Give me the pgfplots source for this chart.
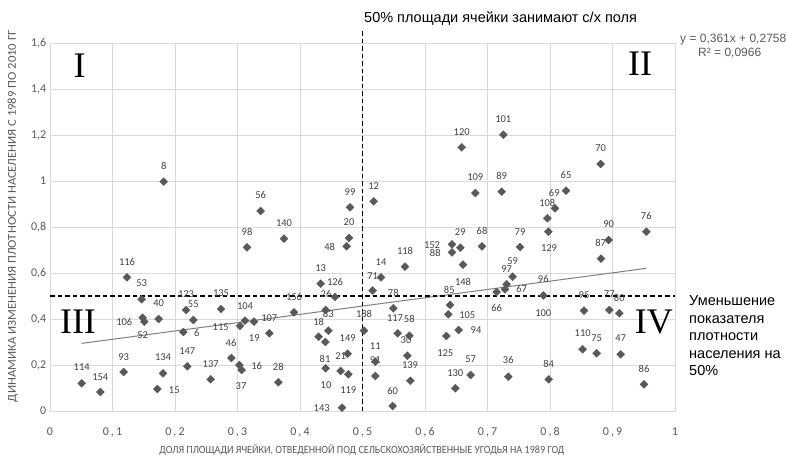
\documentclass[border=0pt]{standalone}
\usepackage{pgfplots}
\pgfplotsset{compat=1.18}
\usepackage{fontspec}
\usepackage{graphicx}
\setmainfont{Liberation Sans}
\newfontfamily\calibri{Carlito}
\newfontfamily\tnr{Liberation Serif}
\definecolor{gridgray}{HTML}{D9D9D9}
\definecolor{txtgray}{HTML}{595959}
\definecolor{ptgray}{HTML}{595959}
\definecolor{lblgray}{HTML}{404040}
\definecolor{trendgray}{HTML}{7F7F7F}
\newcommand\tc[1]{0\hspace{2pt},\hspace{2pt}#1}
\newcommand\lbl[3]{\node[anchor=center,inner sep=0pt,font=\calibri\fontsize{10.5}{12}\selectfont,text=lblgray] at (axis cs:#1,#2) {#3};}
\begin{document}
\begin{tikzpicture}
\path[use as bounding box] (0,0) rectangle (788pt,456pt);
\begin{axis}[
  at={(50pt,45pt)}, anchor=south west,
  width=625pt, height=368pt, scale only axis,
  xmin=0, xmax=1, ymin=0, ymax=1.6,
  xtick={0,0.1,0.2,0.3,0.4,0.5,0.6,0.7,0.8,0.9,1},
  ytick={0,0.2,0.4,0.6,0.8,1,1.2,1.4,1.6},
  xticklabels={0,{\tc1},{\tc2},{\tc3},{\tc4},{\tc5},{\tc6},{\tc7},{\tc8},{\tc9},1},
  yticklabels={0,{0,2},{0,4},{0,6},{0,8},1,{1,2},{1,4},{1,6}},
  grid=major, major grid style={draw=gridgray, line width=0.8pt},
  axis line style={draw=gridgray, line width=0.8pt},
  major tick length=0pt,
  tick label style={font=\calibri\fontsize{12}{14}\selectfont, text=txtgray},
  xticklabel style={anchor=center, yshift=-21pt},
  yticklabel style={anchor=east, inner sep=0pt, xshift=-3.5pt},
  clip=false,
]
\addplot[draw=trendgray, line width=1pt] coordinates {(0.0507,0.2941) (0.9541,0.6202)};
\addplot[only marks, mark=square*, mark size=2.8pt, mark options={rotate=45, fill=ptgray, draw=ptgray}] table {
x y
0.1819 0.997
0.3371 0.8696
0.3152 0.7117
0.3744 0.7491
0.48 0.8857
0.4784 0.7522
0.4747 0.7161
0.5179 0.9117
0.4331 0.5535
0.5296 0.5813
0.5163 0.5239
0.456 0.4957
0.1232 0.5813
0.1467 0.4857
0.1483 0.4057
0.1509 0.3883
0.1739 0.4
0.2176 0.4391
0.2293 0.3957
0.2133 0.3435
0.2736 0.4435
0.304 0.3696
0.2901 0.2304
0.3029 0.2
0.0507 0.1204
0.0805 0.0826
0.1179 0.1696
0.1808 0.1639
0.1717 0.0957
0.2197 0.1943
0.2571 0.1378
0.312 0.3926
0.3264 0.3883
0.3509 0.3378
0.3904 0.4291
0.4411 0.4391
0.4453 0.3491
0.4299 0.3230
0.4405 0.3
0.3067 0.1783
0.3653 0.1248
0.4411 0.1857
0.4651 0.1739
0.4773 0.1596
0.4763 0.2491
0.4672 0.0143
0.5024 0.3491
0.5493 0.4465
0.5563 0.3378
0.5205 0.2143
0.5205 0.1522
0.5483 0.0217
0.6587 1.1465
0.7253 1.2013
0.6805 0.9478
0.7227 0.9535
0.7957 0.8378
0.7973 0.7796
0.6432 0.7248
0.6565 0.71
0.6432 0.69
0.6608 0.6361
0.6912 0.7161
0.752 0.713
0.568 0.6274
0.7403 0.5839
0.7307 0.5509
0.728 0.5291
0.7147 0.5174
0.7893 0.5022
0.64 0.4609
0.6373 0.4204
0.5749 0.3274
0.5717 0.2404
0.5765 0.1317
0.6341 0.3261
0.6539 0.3522
0.6731 0.1565
0.6485 0.0987
0.7333 0.1491
0.8811 1.0739
0.8256 0.9578
0.808 0.8813
0.8939 0.7435
0.8816 0.6622
0.9541 0.7796
0.8544 0.4361
0.8949 0.4391
0.9109 0.4248
0.8523 0.2683
0.8747 0.2509
0.9131 0.2465
0.7979 0.1378
0.9504 0.1161
};
\draw[black, line width=1.5pt, dash pattern=on 4.5pt off 3pt] (axis cs:0,0.5) -- (axis cs:1,0.5);
\draw[black, line width=1.5pt, dash pattern=on 4.5pt off 3pt] (axis cs:0.5,0) -- (axis cs:0.5,1.657);
\lbl{0.1819}{1.0665}{8}
\lbl{0.3371}{0.9391}{56}
\lbl{0.3152}{0.7796}{98}
\lbl{0.3744}{0.8187}{140}
\lbl{0.48}{0.9535}{99}
\lbl{0.4784}{0.8204}{20}
\lbl{0.4475}{0.7143}{48}
\lbl{0.5179}{0.9783}{12}
\lbl{0.4331}{0.6230}{13}
\lbl{0.456}{0.5622}{126}
\lbl{0.5296}{0.6491}{14}
\lbl{0.5163}{0.5883}{71}
\lbl{0.1232}{0.6491}{116}
\lbl{0.1467}{0.5552}{53}
\lbl{0.1739}{0.4683}{40}
\lbl{0.1189}{0.3883}{106}
\lbl{0.1483}{0.3304}{52}
\lbl{0.2176}{0.5087}{123}
\lbl{0.2293}{0.4639}{55}
\lbl{0.2347}{0.3378}{6}
\lbl{0.2736}{0.5117}{135}
\lbl{0.2731}{0.3665}{115}
\lbl{0.2896}{0.297}{46}
\lbl{0.1179}{0.2361}{93}
\lbl{0.0507}{0.19}{114}
\lbl{0.0805}{0.1491}{154}
\lbl{0.1808}{0.2335}{134}
\lbl{0.1989}{0.0913}{15}
\lbl{0.2197}{0.2622}{147}
\lbl{0.2571}{0.2043}{137}
\lbl{0.312}{0.4578}{104}
\lbl{0.3509}{0.403}{107}
\lbl{0.3269}{0.3161}{19}
\lbl{0.3307}{0.197}{16}
\lbl{0.3056}{0.1087}{37}
\lbl{0.3653}{0.1926}{28}
\lbl{0.3904}{0.497}{156}
\lbl{0.4416}{0.5087}{26}
\lbl{0.4453}{0.4204}{83}
\lbl{0.4299}{0.3883}{18}
\lbl{0.4763}{0.3161}{149}
\lbl{0.5024}{0.4204}{188}
\lbl{0.44}{0.2274}{81}
\lbl{0.4651}{0.2391}{21}
\lbl{0.4416}{0.1117}{10}
\lbl{0.4773}{0.0913}{119}
\lbl{0.4347}{0.0117}{143}
\lbl{0.5205}{0.2826}{11}
\lbl{0.5205}{0.2217}{91}
\lbl{0.5483}{0.0883}{60}
\lbl{0.5493}{0.5143}{78}
\lbl{0.6587}{1.2143}{120}
\lbl{0.7253}{1.2683}{101}
\lbl{0.6805}{1.0174}{109}
\lbl{0.7227}{1.0230}{89}
\lbl{0.6565}{0.777}{29}
\lbl{0.6912}{0.7826}{68}
\lbl{0.752}{0.7796}{79}
\lbl{0.6112}{0.7204}{152}
\lbl{0.6165}{0.6857}{88}
\lbl{0.568}{0.6957}{118}
\lbl{0.6608}{0.5622}{148}
\lbl{0.7403}{0.6522}{59}
\lbl{0.7307}{0.6174}{97}
\lbl{0.7547}{0.5283}{67}
\lbl{0.6389}{0.5283}{85}
\lbl{0.7893}{0.5726}{96}
\lbl{0.552}{0.403}{117}
\lbl{0.5749}{0.3987}{58}
\lbl{0.5696}{0.3087}{30}
\lbl{0.576}{0.2}{139}
\lbl{0.6677}{0.4174}{105}
\lbl{0.6816}{0.3522}{94}
\lbl{0.6325}{0.2509}{125}
\lbl{0.6731}{0.2248}{57}
\lbl{0.6485}{0.1639}{130}
\lbl{0.7333}{0.2217}{36}
\lbl{0.7147}{0.4465}{66}
\lbl{0.7893}{0.4248}{100}
\lbl{0.8811}{1.1422}{70}
\lbl{0.8256}{1.0261}{65}
\lbl{0.8069}{0.9491}{69}
\lbl{0.7957}{0.9057}{108}
\lbl{0.8939}{0.8117}{90}
\lbl{0.8811}{0.7317}{87}
\lbl{0.9541}{0.8478}{76}
\lbl{0.7984}{0.7074}{129}
\lbl{0.8544}{0.5043}{95}
\lbl{0.8949}{0.5087}{77}
\lbl{0.9109}{0.49}{80}
\lbl{0.8523}{0.3378}{110}
\lbl{0.8747}{0.3187}{75}
\lbl{0.9131}{0.3161}{47}
\lbl{0.7979}{0.2043}{84}
\lbl{0.9504}{0.1839}{86}
\end{axis}
\begin{scope}[shift={(0pt,456pt)}, x=1pt, y=-1pt]
\node[anchor=base, inner sep=0pt, font=\tnr\fontsize{36}{40}\selectfont] at (79.5,77.3) {I};
\node[anchor=base, inner sep=0pt, font=\tnr\fontsize{36}{40}\selectfont] at (640,76) {II};
\node[anchor=base, inner sep=0pt, font=\tnr\fontsize{36}{40}\selectfont] at (78,333.3) {III};
\node[anchor=base, inner sep=0pt, font=\tnr\fontsize{36}{40}\selectfont] at (653.8,333.3) {IV};
\node[anchor=base west, inner sep=0pt, font=\fontsize{14.5}{17}\selectfont] at (364,23) {50\% площади ячейки занимают с/х поля};
\node[anchor=base west, inner sep=0pt, font=\fontsize{12}{14}\selectfont, text=txtgray] at (680,42.3) {y = 0,361x + 0,2758};
\node[anchor=base west, inner sep=0pt, font=\fontsize{12}{14}\selectfont, text=txtgray] at (698,56.3) {R² = 0,0966};
\node[anchor=base west, inner sep=0pt, font=\fontsize{14.5}{17}\selectfont] at (689,305.5) {Уменьшение};
\node[anchor=base west, inner sep=0pt, font=\fontsize{14.5}{17}\selectfont] at (689,323) {показателя};
\node[anchor=base west, inner sep=0pt, font=\fontsize{14.5}{17}\selectfont] at (689,340.5) {плотности};
\node[anchor=base west, inner sep=0pt, font=\fontsize{14.5}{17}\selectfont] at (689,358) {населения на};
\node[anchor=base west, inner sep=0pt, font=\fontsize{14.5}{17}\selectfont] at (689,375.5) {50\%};
\node[anchor=base, inner sep=0pt, text=txtgray] at (362,453.5) {\resizebox{405pt}{\height}{\calibri\fontsize{11}{13}\selectfont ДОЛЯ ПЛОЩАДИ ЯЧЕЙКИ, ОТВЕДЕННОЙ ПОД СЕЛЬСКОХОЗЯЙСТВЕННЫЕ УГОДЬЯ НА 1989 ГОД}};
\node[anchor=base, rotate=90, inner sep=0pt, text=txtgray] at (16,216) {\resizebox{372pt}{\height}{\calibri\fontsize{12}{14}\selectfont ДИНАМИКА ИЗМЕНЕНИЯ ПЛОТНОСТИ НАСЕЛЕНИЯ С 1989 ПО 2010 ГГ}};
\end{scope}
\end{tikzpicture}
\end{document}
